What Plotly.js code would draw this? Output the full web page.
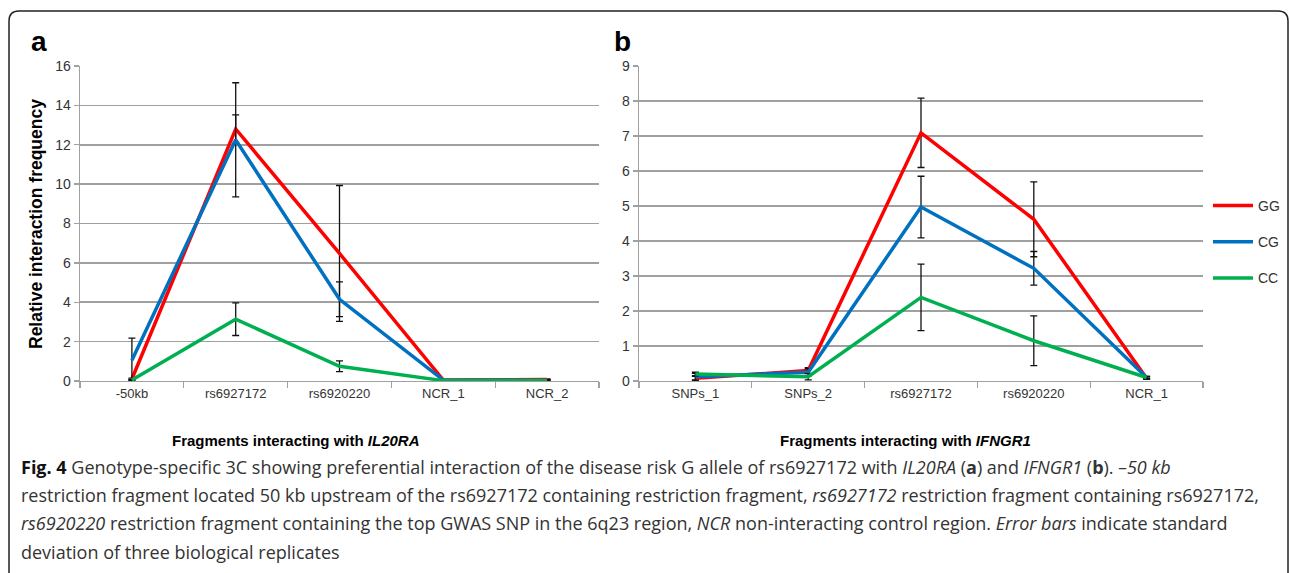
<!DOCTYPE html>
<html>
<head>
<meta charset="utf-8">
<script src="https://cdn.plot.ly/plotly-3.0.1.min.js"></script>
<style>html,body{margin:0;padding:0;background:#fff;}#chart{width:1290px;height:573px;}</style>
</head>
<body>
<div id="chart"></div>
<script>
// ---- Data ----
const catsA = ["-50kb", "rs6927172", "rs6920220", "NCR_1", "NCR_2"];
const ggA = [0.1, 12.8, 6.48, 0.05, 0.08];
const ggAerr = [0.05, 0.72, 3.45, 0.02, 0.03];
const cgA = [1.05, 12.25, 4.15, 0.05, 0.03];
const cgAerr = [1.13, 2.9, 0.88, 0.02, 0.02];
const ccA = [0.05, 3.14, 0.75, 0.02, 0.02];
const ccAerr = [0.03, 0.83, 0.27, 0.01, 0.01];

const catsB = ["SNPs_1", "SNPs_2", "rs6927172", "rs6920220", "NCR_1"];
const ggB = [0.08, 0.3, 7.09, 4.62, 0.08];
const ggBerr = [0.05, 0.08, 0.99, 1.07, 0.03];
const cgB = [0.12, 0.25, 4.97, 3.22, 0.1];
const cgBerr = [0.1, 0.1, 0.88, 0.48, 0.03];
const ccB = [0.2, 0.12, 2.39, 1.15, 0.1];
const ccBerr = [0.05, 0.09, 0.95, 0.71, 0.03];

const seriesNames = ["GG", "CG", "CC"];
const colors = ["#ff0000", "#0070c0", "#00b050"];

const W = 1290, H = 573;
const px = x => x / W;
const py = y => 1 - y / H;

function tr(name, x, y, err, color, xa, ya, show) {
  return {
    type: "scatter", mode: "lines", name: name, x: x, y: y,
    xaxis: xa, yaxis: ya, showlegend: show, legendgroup: name,
    line: {color: color, width: 3.5},
    error_y: {type: "data", array: err, visible: true, color: "#111", thickness: 1.3, width: 3.5},
    hoverinfo: "x+y"
  };
}

const traces = [
  tr(seriesNames[0], catsA, ggA, ggAerr, colors[0], "x", "y", false),
  tr(seriesNames[1], catsA, cgA, cgAerr, colors[1], "x", "y", false),
  tr(seriesNames[2], catsA, ccA, ccAerr, colors[2], "x", "y", false),
  tr(seriesNames[0], catsB, ggB, ggBerr, colors[0], "x2", "y2", true),
  tr(seriesNames[1], catsB, cgB, cgBerr, colors[1], "x2", "y2", true),
  tr(seriesNames[2], catsB, ccB, ccBerr, colors[2], "x2", "y2", true)
];

const tickFont = {family: "Liberation Sans, Arial, sans-serif", size: 13, color: "#333"};
const gridC = "#a0a0a0";

function xax(domain) {
  return {
    domain: domain, type: "category", range: [-0.5, 4.5],
    showgrid: false, showline: true, linecolor: gridC, linewidth: 1.3,
    ticks: "outside", tickson: "boundaries", ticklen: 6, tickcolor: gridC, tickwidth: 1.3,
    tickfont: tickFont, zeroline: false, fixedrange: true
  };
}
function yax(domain, max, anchor) {
  return {
    domain: domain, range: [0, max], dtick: (max > 10 ? 2 : 1), anchor: anchor,
    showgrid: true, gridcolor: gridC, gridwidth: 1.6,
    showline: true, linecolor: gridC, linewidth: 1.3,
    ticks: "outside", ticklen: 5, tickcolor: gridC, tickwidth: 1.3,
    tickfont: {family: "Liberation Sans, Arial, sans-serif", size: 14, color: "#333"},
    zeroline: false, fixedrange: true
  };
}

const xa = xax([px(80), px(599)]); xa.anchor = "y";
const xb = xax([px(639), px(1203)]); xb.anchor = "y2";
const ydom = [py(381), py(66)];

const capFont = {family: "Open Sans, sans-serif", size: 18, color: "#333"};
const capLines = [
  "<b><span style='color:#111'>Fig. 4</span></b> Genotype-specific 3C showing preferential interaction of the disease risk G allele of rs6927172 with <i>IL20RA</i> (<b>a</b>) and <i>IFNGR1</i> (<b>b</b>). <i>–50 kb</i>",
  "restriction fragment located 50 kb upstream of the rs6927172 containing restriction fragment, <i>rs6927172</i> restriction fragment containing rs6927172,",
  "<i>rs6920220</i> restriction fragment containing the top GWAS SNP in the 6q23 region, <i>NCR</i> non-interacting control region. <i>Error bars</i> indicate standard",
  "deviation of three biological replicates"
];
const capY = [467, 495, 523, 552];

function ann(text, x, y, font, extra) {
  return Object.assign({text: text, x: px(x), y: py(y), xref: "paper", yref: "paper",
    xanchor: "center", yanchor: "middle", showarrow: false, font: font}, extra || {});
}
const lab = {family: "Liberation Sans, Arial, sans-serif", size: 28, color: "#000"};
const ttl = {family: "Liberation Sans, Arial, sans-serif", size: 15, color: "#000"};
const annotations = [
  ann("<b>a</b>", 39, 42, lab),
  ann("<b>b</b>", 622, 42, lab),
  ann("<b>Relative interaction frequency</b>", 36, 224,
      {family: "Liberation Sans, Arial, sans-serif", size: 17.5, color: "#000"}, {textangle: -90}),
  ann("<b>Fragments interacting with <i>IL20RA</i></b>", 296, 440, ttl),
  ann("<b>Fragments interacting with <i>IFNGR1</i></b>", 905, 440, ttl)
];
capLines.forEach((t, i) => {
  annotations.push(ann(t, 19, capY[i], capFont, {xanchor: "left", align: "left"}));
});

// rounded frame (top + left + right edges)
const r = 10;
const framePath = "M " + px(9) + "," + py(H + 2) +
  " L " + px(9) + "," + py(11 + r) +
  " Q " + px(9) + "," + py(11) + " " + px(9 + r) + "," + py(11) +
  " L " + px(1288 - r) + "," + py(11) +
  " Q " + px(1288) + "," + py(11) + " " + px(1288) + "," + py(11 + r) +
  " L " + px(1288) + "," + py(H + 2);

const layout = {
  width: W, height: H, margin: {l: 0, r: 0, t: 0, b: 0},
  paper_bgcolor: "#fff", plot_bgcolor: "#fff",
  xaxis: xa, yaxis: yax(ydom, 16, "x"),
  xaxis2: xb, yaxis2: yax(ydom, 9, "x2"),
  showlegend: true,
  legend: {x: px(1208), y: py(190), xanchor: "left", yanchor: "top", itemwidth: 40,
    font: {family: "Liberation Sans, Arial, sans-serif", size: 14, color: "#333"},
    tracegroupgap: 15, bgcolor: "rgba(0,0,0,0)", borderwidth: 0},
  annotations: annotations,
  shapes: [{type: "path", xref: "paper", yref: "paper", path: framePath,
    line: {color: "#222", width: 1.5}}]
};

Plotly.newPlot("chart", traces, layout, {displayModeBar: false, staticPlot: true});
</script>
</body>
</html>
